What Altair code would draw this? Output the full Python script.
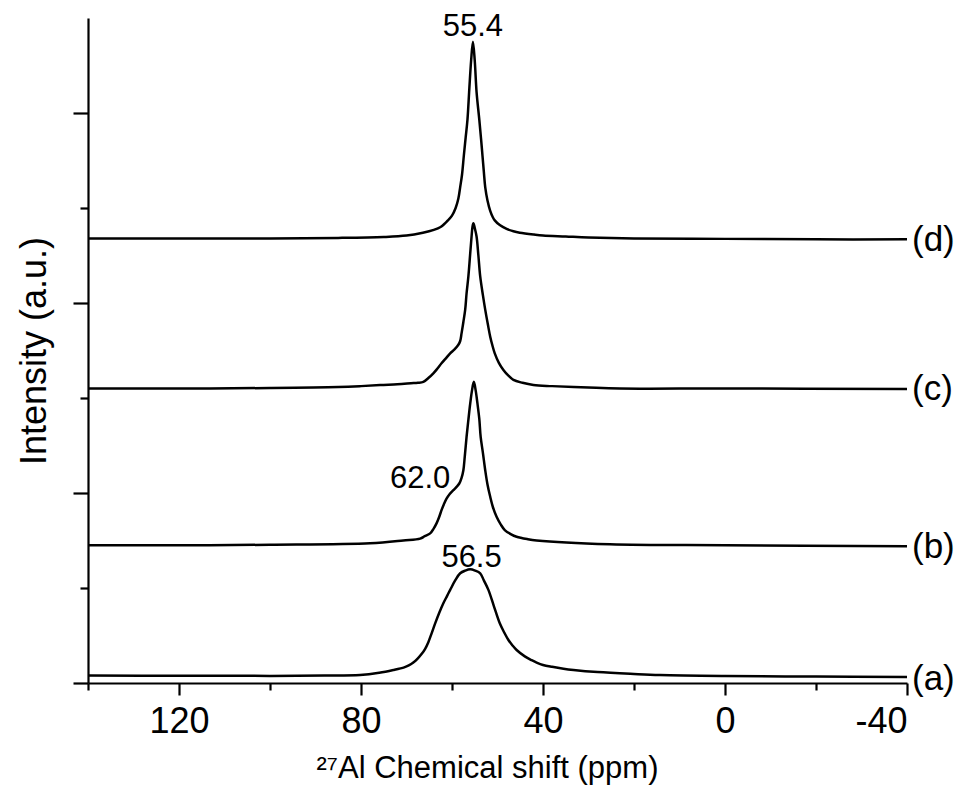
import altair as alt
import pandas as pd

FONT = "Arial, Liberation Sans, sans-serif"

# ---- spectra: chemical shift (ppm) and intensity (a.u.)
shift_a = [140, 120, 100, 88, 80.2, 76, 72.9, 70.5, 69.5, 68.5, 67.5, 66.6, 65.9, 65.2, 64.5, 63.7,
           62.8, 61.9, 61.1, 60.4, 59.3, 58.2, 57.1, 56.0, 54.9, 53.8, 53.0, 52.0, 50.8, 49.5,
           48.5, 47.6, 46.7, 45.8, 44, 42.5, 41.4, 40, 38, 35.5, 33.3, 28, 20, 14.3, 0, -20, -40]
int_a = [0.078, 0.076, 0.075, 0.078, 0.084, 0.108, 0.137, 0.165, 0.185, 0.215, 0.26, 0.31, 0.36, 0.43, 0.52, 0.628,
         0.74, 0.84, 0.915, 0.98, 1.08, 1.155, 1.183, 1.197, 1.183, 1.155, 1.08, 0.98, 0.81, 0.628,
         0.53, 0.453, 0.395, 0.347, 0.28, 0.24, 0.215, 0.19, 0.17, 0.15, 0.137, 0.115, 0.095, 0.084, 0.074, 0.068, 0.063]

shift_b = [140, 120, 100, 78.0, 70.7, 67.0, 66.0, 64.8, 64.1, 63.4, 62.8, 62.3, 61.8, 61.2, 60.5,
           59.7, 59.0, 58.4, 57.9, 57.5, 57.2, 56.8, 56.4, 56.0, 55.6, 55.2, 54.8, 54.4, 54.0,
           53.7, 53.2, 52.7, 52.2, 51.6, 51.0, 50.2, 49.3, 48.4, 47, 45.8, 43.5, 41.4, 25.3, 0, -40]
int_b = [1.45, 1.45, 1.455, 1.47, 1.50, 1.52, 1.545, 1.575, 1.62, 1.68, 1.75, 1.82, 1.88, 1.94, 1.99,
         2.03, 2.065, 2.10, 2.16, 2.24, 2.38, 2.59, 2.77, 2.94, 3.08, 3.17, 3.08, 2.94, 2.78,
         2.59, 2.42, 2.24, 2.09, 1.96, 1.85, 1.75, 1.67, 1.61, 1.565, 1.54, 1.515, 1.50, 1.46, 1.45, 1.44]

shift_c = [140, 120, 100, 85, 80, 75.8, 72, 69, 67.5, 66.3, 65.2, 64.1, 63.2, 62.3, 61.3, 60.4,
           59.5, 58.6, 58.2, 57.9, 57.5, 57.1, 56.8, 56.4, 56.0, 55.7, 55.5, 55.3, 55.0, 54.6,
           54.2, 53.8, 53.2, 52.7, 52.1, 51.6, 51.1, 50.6, 49.7, 48.7, 47.6, 46.5, 44.5, 42.1,
           38, 30, 23.1, 0, -40]
int_c = [3.10, 3.10, 3.105, 3.115, 3.125, 3.137, 3.145, 3.155, 3.16, 3.17, 3.21, 3.26, 3.31, 3.365, 3.42, 3.47,
         3.51, 3.56, 3.60, 3.68, 3.80, 3.93, 4.10, 4.28, 4.52, 4.70, 4.80, 4.84, 4.79, 4.70,
         4.50, 4.28, 4.08, 3.93, 3.77, 3.645, 3.55, 3.47, 3.37, 3.295, 3.235, 3.19, 3.16, 3.137,
         3.125, 3.11, 3.10, 3.10, 3.095]

shift_d = [140, 120, 100, 85, 75, 70, 66.4, 64, 62.5, 61.5, 60.9, 60.0, 59.2, 58.6, 58.2, 57.8,
           57.4, 57.0, 56.6, 56.2, 55.8, 55.4, 55.0, 54.6, 54.0, 53.6, 53.3, 53.0, 52.7, 52.2,
           51.6, 51.0, 50.6, 49.5, 48.0, 46.5, 45.1, 42, 40, 35, 30, 20, 0, -20, -40]
int_d = [4.68, 4.68, 4.68, 4.685, 4.695, 4.71, 4.74, 4.77, 4.80, 4.84, 4.87, 4.92, 5.00, 5.10, 5.22, 5.35,
         5.55, 5.74, 5.93, 6.25, 6.55, 6.75, 6.55, 6.22, 5.93, 5.72, 5.55, 5.38, 5.22, 5.08,
         4.97, 4.90, 4.87, 4.82, 4.78, 4.755, 4.74, 4.72, 4.71, 4.70, 4.69, 4.68, 4.675, 4.67, 4.67]

series_names = ["(a)", "(b)", "(c)", "(d)"]

# ---- annotations
peak_text = ["55.4", "62.0", "56.5"]
peak_x = [55.4, 67.0, 55.7]
peak_y = [6.81, 2.05, 1.225]

curve_label_x = [-40, -40, -40, -40]
curve_label_y = [0.04, 1.43, 3.09, 4.66]

x_major = [120, 80, 40, 0, -40]
x_minor = [140, 100, 60, 20, -20]
y_major = [0, 2, 4, 6]
y_minor = [1, 3, 5]

rows = []
for name, xs, ys in zip(series_names, [shift_a, shift_b, shift_c, shift_d], [int_a, int_b, int_c, int_d]):
    for i, (xv, yv) in enumerate(zip(xs, ys)):
        rows.append({"series": name, "shift": xv, "intensity": yv, "idx": i})
spec_df = pd.DataFrame(rows)

peak_df = pd.DataFrame({"text": peak_text, "shift": peak_x, "intensity": peak_y})
lab_df = pd.DataFrame({"text": series_names, "shift": curve_label_x, "intensity": curve_label_y})

xscale = alt.Scale(domain=[-40, 140], reverse=True, nice=False, zero=False)
yscale = alt.Scale(domain=[0, 7], nice=False, zero=False)

lines = alt.Chart(spec_df).mark_line(color="black", strokeWidth=2.5, interpolate="catmull-rom").encode(
    x=alt.X("shift:Q", scale=xscale,
            axis=alt.Axis(orient="bottom", values=x_major, tickSize=12, labelPadding=9,
                          labelExpr="datum.value + ''", labelFontSize=36, labelFont=FONT,
                          labelColor="black", title="\u00b2\u2077Al Chemical shift (ppm)",
                          titleFontSize=31, titleFont=FONT, titleFontWeight="normal",
                          titleColor="black", titlePadding=14, titleX=399, grid=False)),
    y=alt.Y("intensity:Q", scale=yscale,
            axis=alt.Axis(orient="left", values=y_major, tickSize=15, labels=False,
                          title="Intensity (a.u.)", titleFontSize=36, titleFont=FONT,
                          titleFontWeight="normal", titleColor="black", titlePadding=18,
                          grid=False)),
    detail="series:N",
    order="idx:Q",
)

peaks = alt.Chart(peak_df).mark_text(fontSize=31, font=FONT, color="black",
                                       align="center", baseline="alphabetic").encode(
    x=alt.X("shift:Q", scale=xscale,
            axis=alt.Axis(orient="bottom", values=x_minor, tickSize=7, labels=False,
                          domain=False, title=None, grid=False)),
    y=alt.Y("intensity:Q", scale=yscale,
            axis=alt.Axis(orient="left", values=y_minor, tickSize=8, labels=False,
                          domain=False, title=None, grid=False)),
    text="text:N",
)

labels = alt.Chart(lab_df).mark_text(fontSize=35, font=FONT, color="black",
                                      align="left", baseline="middle", dx=5).encode(
    x=alt.X("shift:Q", scale=xscale, axis=None),
    y=alt.Y("intensity:Q", scale=yscale, axis=None),
    text="text:N",
)

chart = alt.layer(lines, peaks, labels).resolve_scale(
    x="independent", y="independent"
).properties(
    width=819, height=665,
    autosize=alt.AutoSizeParams(type="none"),
    padding={"left": 80, "top": 10, "right": 53, "bottom": 111},
).configure_view(stroke=None).configure_axis(
    domainColor="black", domainWidth=2.2, tickColor="black", tickWidth=2.2,
)

chart.save("out.html", embed_options={"renderer": "svg", "actions": False})
